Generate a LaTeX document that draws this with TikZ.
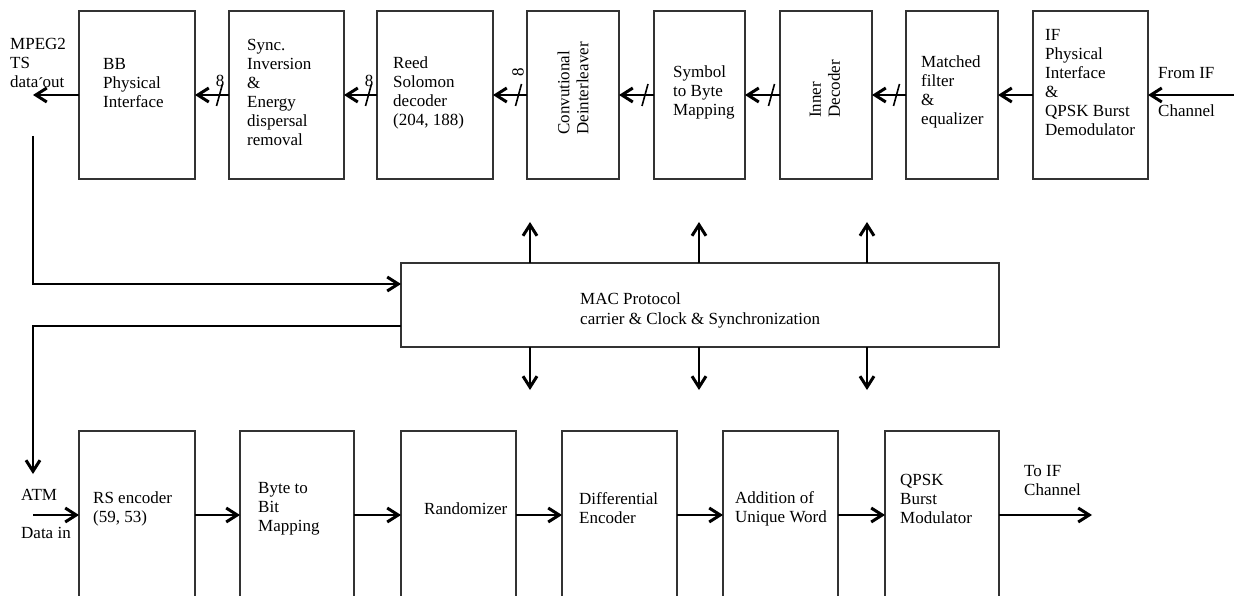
\documentclass[tikz,border=0pt]{standalone}
\usepackage{fontspec}
\setmainfont{Liberation Serif}
\usetikzlibrary{arrows.meta,calc}
\begin{document}
\begin{tikzpicture}[x=1pt,y=-1pt,
  blk/.style={draw=black!80, line width=1.2pt, inner sep=0pt, outer sep=0pt, minimum height=168pt},
  lbl/.style={font=\fontsize{17}{19}\selectfont, align=left, inner sep=0pt, anchor=west},
  sig/.style={line width=1.6pt, -{Straight Barb[length=11pt,width=14pt,line width=3pt]}},
  slash/.style={line width=1.6pt}]
\clip (0,0) rectangle (1234,596);
% ---------- top row ----------
\node[blk, minimum width=116pt] (bb)    at (137,95) {};
\node[blk, minimum width=115pt] (sync)  at (286.5,95) {};
\node[blk, minimum width=116pt] (reed)  at (435,95) {};
\node[blk, minimum width=92pt]  (conv)  at (573,95) {};
\node[blk, minimum width=91pt]  (sym)   at (699.5,95) {};
\node[blk, minimum width=92pt]  (inner) at (826,95) {};
\node[blk, minimum width=92pt]  (match) at (952,95) {};
\node[blk, minimum width=115pt] (ifb)   at (1090.5,95) {};

\node[lbl] (bbT)    at (103,83)   {BB\\Physical\\Interface};
\node[lbl] (syncT)  at (247,92.5) {Sync.\\Inversion\\\&\\Energy\\dispersal\\removal};
\node[lbl] (reedT)  at (393,92.5) {Reed\\Solomon\\decoder\\(204, 188)};
\node[lbl, rotate=90] (convT) at (573,135) {Convutional\\Deinterleaver};
\node[lbl] (symT)   at (673,92)   {Symbol\\to Byte\\Mapping};
\node[lbl, rotate=90] (innerT) at (825,118) {Inner\\Decoder};
\node[lbl] (matchT) at (921,92)   {Matched\\filter\\\&\\equalizer};
\node[lbl] (ifT)    at (1045,82.5) {IF\\Physical\\Interface\\\&\\QPSK Burst\\Demodulator};

\node[lbl] (mpeg)   at (10,64)  {MPEG2\\TS\\data\makebox[4.2pt]{\raisebox{-2pt}{\textasciiacute}}out};
\node[lbl] (fromif) at (1158,73)  {From IF};
\node[lbl] (chan)   at (1158,111) {Channel};

\coordinate (ifin) at (1234,95);
\coordinate (mout) at (33,95);
\draw[sig] (ifin) -- (ifb.east);
\draw[sig] (ifb.west) -- (match.east);
\draw[sig] (match.west) -- (inner.east);
\draw[sig] (inner.west) -- (sym.east);
\draw[sig] (sym.west) -- (conv.east);
\draw[sig] (conv.west) -- (reed.east);
\draw[sig] (reed.west) -- (sync.east);
\draw[sig] (sync.west) -- (bb.east);
\draw[sig] (bb.west) -- (mout);

% bus slashes
\foreach \sx in {219.5,368.5,518.5,645,771.5,896.5}
  \draw[slash] (\sx-3,106) -- (\sx+3,84);
\node[lbl, anchor=center] (w1) at (220,81) {8};
\node[lbl, anchor=center] (w2) at (369,81) {8};
\node[lbl, anchor=center, rotate=90] (w3) at (518,72) {8};

% ---------- MAC ----------
\node[blk, minimum width=598pt, minimum height=84pt] (mac) at (700,305) {};
\node[lbl, font=\fontsize{17}{20}\selectfont] (macT) at (580,310) {MAC Protocol\\carrier \& Clock \& Synchronization};

\foreach \ux/\nm in {530/a,699/b,867/c} {
  \coordinate (up\nm) at (\ux,222);
  \coordinate (dn\nm) at (\ux,390);
  \draw[sig] (mac.north -| up\nm) -- (up\nm);
  \draw[sig] (mac.south -| dn\nm) -- (dn\nm);
}

\coordinate (l0) at (33,136);
\coordinate (l1) at (33,284);
\coordinate (l2) at (33,326);
\coordinate (l3) at (33,474);
\draw[sig] (l0) -- (l1) -- (mac.west |- l1);
\draw[sig] (mac.west |- l2) -- (l2) -- (l3);

% ---------- bottom row ----------
\node[blk, minimum width=116pt] (rs)   at (137,515) {};
\node[blk, minimum width=114pt] (byte) at (297,515) {};
\node[blk, minimum width=115pt] (rand) at (458.5,515) {};
\node[blk, minimum width=115pt] (diff) at (619.5,515) {};
\node[blk, minimum width=115pt] (add)  at (780.5,515) {};
\node[blk, minimum width=114pt] (qpsk) at (942,515) {};

\node[lbl] (rsT)   at (93,508.5)  {RS encoder\\(59, 53)};
\node[lbl] (byteT) at (258,509)   {Byte to\\Bit\\Mapping};
\node[lbl] (randT) at (424,509)   {Randomizer};
\node[lbl] (diffT) at (579,508.5) {Differential\\Encoder};
\node[lbl] (addT)  at (735,508.5) {Addition of\\Unique Word};
\node[lbl] (qpskT) at (900,499)   {QPSK\\Burst\\Modulator};
\node[lbl] (toifT) at (1024,480.5) {To IF\\Channel};
\node[lbl] (atm)   at (21,495) {ATM};
\node[lbl] (datin) at (21,533) {Data in};

\coordinate (ain) at (33,515);
\coordinate (tout) at (1092,515);
\draw[sig] (ain) -- (rs.west);
\draw[sig] (rs.east) -- (byte.west);
\draw[sig] (byte.east) -- (rand.west);
\draw[sig] (rand.east) -- (diff.west);
\draw[sig] (diff.east) -- (add.west);
\draw[sig] (add.east) -- (qpsk.west);
\draw[sig] (qpsk.east) -- (tout);
\end{tikzpicture}
\end{document}
